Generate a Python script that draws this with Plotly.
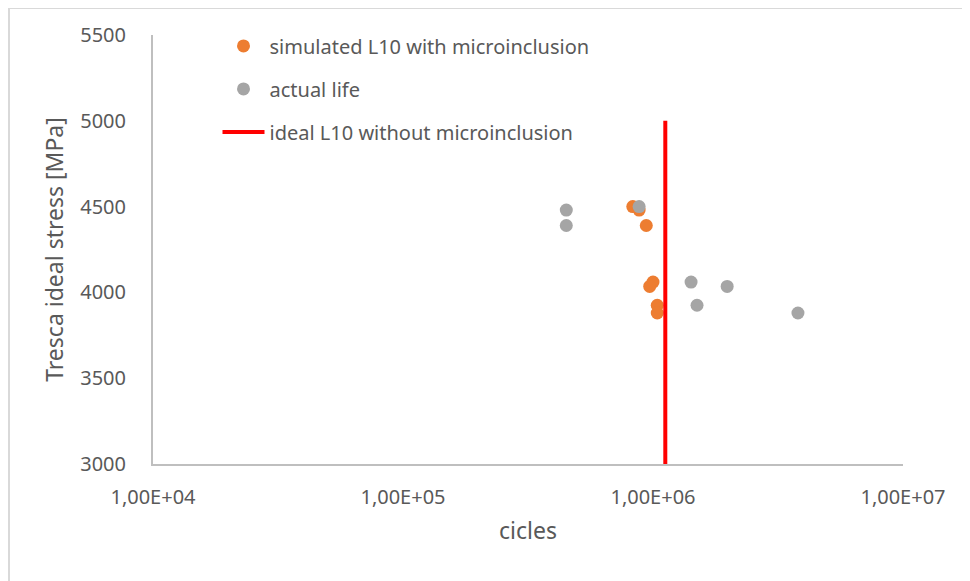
import plotly.graph_objects as go

# Data
sim_cycles = [8.3e5, 8.8e5, 9.4e5, 1.0e6, 9.7e5, 1.04e6, 1.04e6]
sim_stress = [4500, 4480, 4390, 4060, 4035, 3925, 3880]
act_cycles = [8.8e5, 4.5e5, 4.5e5, 1.42e6, 1.98e6, 1.50e6, 3.8e6]
act_stress = [4500, 4480, 4390, 4060, 4035, 3925, 3880]
ideal_cycles = [1.12e6, 1.12e6]
ideal_stress = [3000, 5000]
x_tickvals = [1e4, 1e5, 1e6, 1e7]
x_ticktext = ["1,00E+04", "1,00E+05", "1,00E+06", "1,00E+07"]
y_tickvals = [3000, 3500, 4000, 4500, 5000, 5500]

FONT = "Noto Sans"
TXT = "#595959"

fig = go.Figure()
fig.add_trace(go.Scatter(x=sim_cycles, y=sim_stress, mode="markers",
                         name="simulated L10 with microinclusion", legendgroup="a",
                         marker=dict(color="#ED7D31", size=13)))
fig.add_trace(go.Scatter(x=act_cycles, y=act_stress, mode="markers",
                         name="actual life", legendgroup="b",
                         marker=dict(color="#A5A5A5", size=13)))
fig.add_trace(go.Scatter(x=ideal_cycles, y=ideal_stress, mode="lines",
                         name="ideal L10 without microinclusion", legendgroup="c",
                         line=dict(color="#FF0000", width=4)))

fig.update_layout(
    width=962, height=573,
    margin=dict(l=145, r=67, t=27, b=117),
    paper_bgcolor="white", plot_bgcolor="white",
    font=dict(family=FONT, color=TXT, size=20),
    showlegend=True,
    legend=dict(x=0.086, y=1.02, xanchor="left", yanchor="top",
                bgcolor="rgba(0,0,0,0)", font=dict(size=20, color=TXT),
                itemwidth=42, traceorder="grouped", tracegroupgap=14),
    xaxis=dict(type="log", range=[4, 7], tickvals=x_tickvals, ticktext=x_ticktext,
               showgrid=False, zeroline=False, showline=True, linecolor="#BFBFBF",
               linewidth=2, ticks="", ticklabelstandoff=14,
               tickfont=dict(size=20, color=TXT),
               title=dict(text="cicles", font=dict(size=23, color=TXT), standoff=14)),
    yaxis=dict(range=[3000, 5500], tickvals=y_tickvals,
               showgrid=False, zeroline=False, showline=True, linecolor="#BFBFBF",
               linewidth=2, ticks="", ticklabelstandoff=21,
               tickfont=dict(size=20, color=TXT),
               title=dict(text="Tresca ideal stress [MPa]", font=dict(size=23, color=TXT), standoff=10)),
)

# chart area border
fig.add_shape(type="rect", xref="paper", yref="paper",
              x0=(9 - 153) / 750, x1=(1000 - 153) / 750,
              y0=(464 - 620) / 429, y1=(464 - 8) / 429,
              line=dict(color="#D9D9D9", width=2), fillcolor="rgba(0,0,0,0)", layer="below")

fig.write_html("out.html")
